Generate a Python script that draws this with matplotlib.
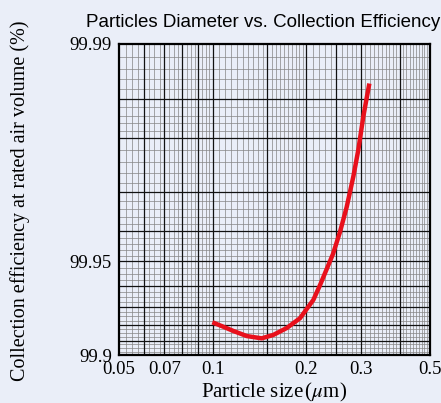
import numpy as np
import matplotlib.pyplot as plt

# curve (particle size in um, collection efficiency in %)
size_um = [0.0998, 0.1082, 0.1166, 0.1287, 0.1438, 0.1567, 0.1731, 0.1909, 0.2108,
           0.2215, 0.2439, 0.2568, 0.2699, 0.2834, 0.2941, 0.3052, 0.3191]
efficiency = [99.9215, 99.9189, 99.9163, 99.9131, 99.9116, 99.9138, 99.9181, 99.9238, 99.9335,
              99.9404, 99.9527, 99.9598, 99.9666, 99.9733, 99.9781, 99.9829, 99.9866]

x_ticks = [0.05, 0.07, 0.1, 0.2, 0.3, 0.5]
x_labels = ['0.05', '0.07', '0.1', '0.2', '0.3', '0.5']
y_ticks = [99.9, 99.95, 99.99]
y_labels = ['99.9', '99.95', '99.99']

bg = '#eaeef8'
plt.rcParams['mathtext.fontset'] = 'stix'


def fwd(e):
    # log of penetration, so 99.9 -> 99.99 spans one decade
    return -np.log10(np.clip(100 - np.asarray(e, dtype=float), 1e-6, None))


def inv(v):
    return 100 - 10 ** (-np.asarray(v, dtype=float))


fig = plt.figure(figsize=(4.41, 4.03), dpi=100, facecolor=bg)
ax = fig.add_axes([119 / 441, 48 / 403, 311 / 441, 311 / 403])
ax.set_facecolor(bg)
ax.set_xscale('log')
ax.set_yscale('function', functions=(fwd, inv))
ax.set_xlim(0.05, 0.5)
ax.set_ylim(99.9, 99.99)

# graph-paper grid
minor_x = np.concatenate([np.arange(0.05, 0.1, 0.0025), np.arange(0.1, 0.2, 0.005),
                          np.arange(0.2, 0.5, 0.01)])
major_x = [0.06, 0.07, 0.08, 0.09, 0.1, 0.15, 0.2, 0.25, 0.3, 0.4]
pen_minor = np.concatenate([np.arange(0.01, 0.02, 0.001), np.arange(0.02, 0.05, 0.002),
                            np.arange(0.05, 0.1, 0.0025)])
pen_major = [0.015, 0.02, 0.03, 0.04, 0.05, 0.06, 0.07, 0.08, 0.09]
ax.vlines(minor_x, 99.9, 99.99, colors='#858585', lw=0.5, zorder=1)
ax.hlines(100 - pen_minor, 0.05, 0.5, colors='#858585', lw=0.5, zorder=1)
ax.vlines(major_x, 99.9, 99.99, colors='#111111', lw=0.9, zorder=1)
ax.hlines(100 - np.array(pen_major), 0.05, 0.5, colors='#111111', lw=0.9, zorder=1)

ax.plot(size_um, efficiency, color='#e8101c', lw=3.2, solid_capstyle='butt',
        solid_joinstyle='round', zorder=3)

serif = ['Liberation Serif', 'DejaVu Serif']
ax.set_xticks(x_ticks)
ax.set_xticklabels(x_labels, fontfamily=serif, fontsize=13.5)
ax.set_xticks([], minor=True)
ax.set_yticks(y_ticks)
ax.set_yticklabels(y_labels, fontfamily=serif, fontsize=13.5)
ax.set_yticks([], minor=True)
ax.tick_params(length=0, pad=4)
ax.tick_params(axis='y', pad=5)
for s in ax.spines.values():
    s.set_linewidth(1.6)
    s.set_color('black')

ax.set_xlabel(r'Particle size$\,$($\mu$m)', fontfamily=serif, fontsize=15)
ax.xaxis.set_label_coords(0.5, -0.122)
ax.xaxis.label.set_va('center')
ax.set_ylabel('Collection efficiency at rated air volume (%)', fontfamily=serif, fontsize=14.5)
ax.yaxis.set_label_coords(-0.318, 0.495)
ax.yaxis.label.set_va('center')

fig.text(263 / 441, 1 - 27 / 403, 'Particles Diameter vs. Collection Efficiency',
         ha='center', va='baseline', fontsize=13.5,
         family=['Liberation Sans Narrow', 'Liberation Sans'])

fig.savefig('out.png', dpi=100, facecolor=bg)
